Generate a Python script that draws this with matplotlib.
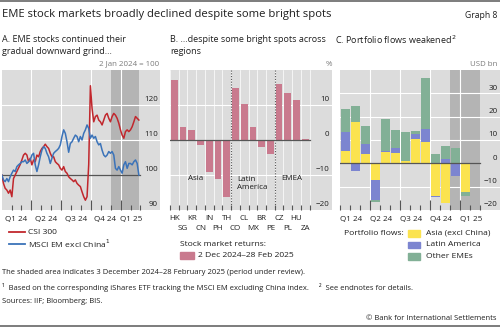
import numpy as np
import pandas as pd
import matplotlib
matplotlib.use("Agg")
import matplotlib.pyplot as plt
from matplotlib.lines import Line2D
from matplotlib.patches import Rectangle
from matplotlib.transforms import blended_transform_factory

# ----------------- Datos -----------------

# Panel A: índices (2 ene 2024 = 100), muestreo aprox. cada 5 días
csi300 = [100, 97.6, 96.2, 95.7, 94.8, 95.7, 93.8, 99, 100, 101, 102, 103, 104.3,
          105.7, 106.2, 105.7, 103.8, 104.8, 102.9, 104.3, 103.8, 105.7, 105.2,
          106.7, 107.6, 108.1, 108.8, 108.1, 107.6, 106.2, 105.2, 105.2, 103.8,
          103.3, 102.9, 101.9, 101.4, 102.4, 101, 100.5, 99.5, 99, 98.6, 98.1,
          98.6, 97.6, 97.1, 96.7, 95.2, 93.8, 92.8, 93.8, 103, 125.5, 119,
          115.2, 116.7, 117.1, 115.7, 115.2, 114.3, 115.7, 117.1, 117.6, 116.2,
          115.2, 116.7, 117.6, 117.1, 116.2, 114.8, 112.9, 111.4, 110.5, 112.4,
          112.9, 112.4, 112.9, 113.8, 115.2, 116.7, 116.2, 115.7]
msci_ex_china = [100, 98.6, 98.1, 99, 98.1, 99.5, 100.5, 101.4, 101, 102.4, 102.9,
                 103.3, 103.8, 103.8, 104.3, 103.3, 103.8, 104.3, 105.7, 106.2,
                 102.9, 101, 102.9, 105.2, 107.1, 108.1, 107.6, 106.2, 105.2,
                 103.3, 104.8, 106.2, 106.7, 107.1, 107.6, 108.6, 111, 112.9,
                 111.9, 109.5, 106.5, 109, 109.5, 110.5, 111.4, 111, 109.5, 111,
                 110, 111.9, 112.9, 114.3, 113.3, 110.5, 111.4, 110.5, 111, 109.5,
                 108.6, 109, 107.1, 105.7, 105.2, 105.7, 106.7, 106.2, 106.7,
                 105.7, 101.9, 101.4, 102.4, 101.4, 100.5, 102.9, 103.8, 101.9,
                 103.3, 103.3, 102.9, 103.8, 104.3, 103.3, 100]

# Panel B: rentabilidades 2 dic 2024-28 feb 2025 (%)
paises = ["HK", "SG", "KR", "CN", "IN", "PH", "TH", "CO", "CL", "MX", "BR", "PE",
          "CZ", "PL", "HU", "ZA"]
retornos = [17.2, 3.8, 3.0, -1.3, -9.0, -11.1, -16.4, 14.9, 10.4, 3.7, -2.0, -4.0,
            15.9, 13.3, 11.4, 0.3]

# Panel C: flujos de cartera mensuales (USD bn), ene 2024 - ene 2025
meses = pd.period_range("2024-01", "2025-01", freq="M")
flujo_asia = [5.3, 17.6, 4.0, -7.1, 4.7, 4.6, 0.8, 10.6, 9.0, -14.0, -17.1, 0.0, -12.4]
flujo_latam = [8.3, -3.3, 4.3, -8.6, 0.7, 2.1, 0.0, 2.1, 5.7, -0.6, 1.7, -5.4, 0.0]
flujo_otros = [9.7, 7.1, 7.6, -1.0, 13.6, 7.4, 12.5, 1.2, 22.0, 4.0, 5.7, 6.7, -1.5]

# ----------------- Estilo -----------------

W, H = 500, 328
FONDO = "#dcdcdc"
SOMBRA = "#b4b4b4"
GRIS = "#555555"
ROJO = "#c1272d"
AZUL = "#3b73b9"
MALVA = "#c97a8e"
AMARILLO = "#fbe34f"
LILA = "#7c85d0"
VERDE = "#82b096"
TXT = "#1f1f1f"

plt.rcParams["font.family"] = ["Open Sans", "DejaVu Sans"]
TICK_FS = 5.8
SUB_FS = 6.45
LEG_FS = 6.1
PIE_FS = 5.5

fig = plt.figure(figsize=(W / 100, H / 100), dpi=100)


def caja(x0, y0, x1, y1):
    ax = fig.add_axes([x0 / W, 1 - y1 / H, (x1 - x0) / W, (y1 - y0) / H])
    ax.set_facecolor(FONDO)
    for s in ax.spines.values():
        s.set_visible(False)
    ax.set_yticks([])
    return ax


def ftexto(x, y, s, **kw):
    kw.setdefault("color", TXT)
    kw.setdefault("va", "center")
    fig.text(x / W, 1 - y / H, s, **kw)


def etiqueta_x(ax, x, y, s):
    tr = blended_transform_factory(ax.transData, fig.transFigure)
    ax.text(x, 1 - y / H, s, transform=tr, ha="center", va="center",
            fontsize=TICK_FS, color=TXT, clip_on=False)


def etiquetas_y(ax, valores, dy):
    tr = blended_transform_factory(ax.transAxes, ax.transData)
    for v in valores:
        ax.text(0.985, v + dy, f"{v:g}".replace("-", "\u2212"), transform=tr,
                ha="right", va="bottom", fontsize=TICK_FS, color=TXT)


def ticks_x(ax, mayores, menores):
    ax.set_xticks(mayores)
    ax.set_xticks(menores, minor=True)
    ax.tick_params(axis="x", which="major", direction="in", length=7, width=0.8,
                   color=GRIS, labelbottom=False)
    ax.tick_params(axis="x", which="minor", direction="in", length=3.5, width=0.8,
                   color=GRIS, labelbottom=False)


# ----------------- Cabecera -----------------

fig.add_artist(Line2D([0, 1], [1 - 1 / H, 1 - 1 / H], color="#666666", lw=1.2))
ftexto(2, 15, "EME stock markets broadly declined despite some bright spots",
       fontsize=8.1)
ftexto(497, 15, "Graph 8", fontsize=6.2, ha="right")
ftexto(2, 40, "A. EME stocks continued their", fontsize=SUB_FS)
ftexto(2, 51, "gradual downward grind...", fontsize=SUB_FS)
ftexto(170, 40, "B. ...despite some bright spots across", fontsize=SUB_FS)
ftexto(170, 51, "regions", fontsize=SUB_FS)
ftexto(335, 40, "C. Portfolio flows weakened$^{2}$", fontsize=SUB_FS)

# ----------------- Panel A -----------------

fechas = pd.date_range("2024-01-02", "2025-02-26", periods=len(csi300))
axA = caja(1.5, 70, 160, 210)
axA.set_xlim(pd.Timestamp("2024-01-01"), pd.Timestamp("2025-05-02"))
axA.set_ylim(90, 130)
axA.axvspan(pd.Timestamp("2024-12-03"), pd.Timestamp("2025-02-28"),
            color=SOMBRA, lw=0, zorder=0)
trimestres = pd.to_datetime(["2024-04-01", "2024-07-01", "2024-10-01", "2025-01-01"])
for v in [110, 120]:
    axA.axhline(v, color="white", lw=0.8, zorder=1)
for d in trimestres:
    axA.axvline(d, color="white", lw=0.8, zorder=1)
axA.plot([pd.Timestamp("2024-01-01"), pd.Timestamp("2025-03-01")], [100, 100],
         color=GRIS, lw=0.9, zorder=2)
axA.plot(fechas, csi300, color=ROJO, lw=1.1, zorder=3)
axA.plot(fechas, msci_ex_china, color=AZUL, lw=1.1, zorder=3)
mensuales = [d for d in pd.date_range("2024-02-01", "2025-03-01", freq="MS")
             if d not in trimestres]
ticks_x(axA, trimestres, mensuales)
etiquetas_y(axA, [90, 100, 110, 120], 0.5)
for d, lab in zip(pd.to_datetime(["2024-02-15", "2024-05-16", "2024-08-16",
                                  "2024-11-15", "2025-02-01"]),
                  ["Q1 24", "Q2 24", "Q3 24", "Q4 24", "Q1 25"]):
    etiqueta_x(axA, d, 219, lab)
ftexto(159, 64, "2 Jan 2024 = 100", fontsize=5.7, ha="right", color="#7a7a7a")

for y, col, lab in [(232, ROJO, "CSI 300"), (244, AZUL, "MSCI EM excl China$^{1}$")]:
    fig.add_artist(Line2D([8.5 / W, 25 / W], [1 - y / H, 1 - y / H], color=col, lw=1.3))
    ftexto(28.5, y, lab, fontsize=LEG_FS)

# ----------------- Panel B -----------------

xB = np.arange(len(paises))
axB = caja(170, 70, 332, 210)
axB.set_xlim(-0.5, -0.5 + 162 / 8.73)
axB.set_ylim(-20, 20)
for v in [-10, 10]:
    axB.axhline(v, color="white", lw=0.8, zorder=1)
for b in np.arange(-0.5, len(paises)):
    axB.axvline(b, color="white", lw=0.5, zorder=1)
axB.bar(xB, retornos, width=0.77, color=MALVA, zorder=2)
axB.plot([-0.5, len(paises) - 0.5], [0, 0], color=GRIS, lw=0.9, zorder=3)
for b in [6.5, 11.5]:
    axB.axvline(b, color=GRIS, lw=0.8, ls=(0, (1, 1.5)), zorder=3)
ticks_x(axB, [], np.arange(-0.5, len(paises)))
etiquetas_y(axB, [-20, -10, 0, 10], 0.5)
for i, p in enumerate(paises):
    etiqueta_x(axB, i, 219 if i % 2 == 0 else 228, p)
axB.text(2.45, -11.1, "Asia", ha="center", va="center", fontsize=TICK_FS, color=TXT)
axB.text(7.2, -12.4, "Latin\nAmerica", ha="left", va="center", fontsize=TICK_FS,
         color=TXT, linespacing=1.15)
axB.text(13.5, -11.1, "EMEA", ha="center", va="center", fontsize=TICK_FS, color=TXT)
ftexto(332, 64, "%", fontsize=5.7, ha="right", color="#7a7a7a")

ftexto(180, 244, "Stock market returns:", fontsize=LEG_FS)
fig.add_artist(Rectangle((180 / W, 1 - 259 / H), 14 / W, 7 / H, color=MALVA))
ftexto(198, 255.7, "2 Dec 2024\u201328 Feb 2025", fontsize=LEG_FS)

# ----------------- Panel C -----------------

xC = np.arange(len(meses))
axC = caja(340, 70, 500, 210)
axC.set_xlim(-0.5, 15.5)
axC.set_ylim(-20, 40)
axC.axvspan(10.5, 13.5, color=SOMBRA, lw=0, zorder=0)
for v in [-10, 10, 20, 30]:
    axC.axhline(v, color="white", lw=0.8, zorder=1)
for b in [2.5, 5.5, 8.5, 11.5]:
    axC.axvline(b, color="white", lw=0.8, zorder=1)

pos = np.zeros(len(meses))
neg = np.zeros(len(meses))
for serie, col in [(flujo_asia, AMARILLO), (flujo_latam, LILA), (flujo_otros, VERDE)]:
    v = np.array(serie)
    base = np.where(v >= 0, pos, neg)
    axC.bar(xC, v, bottom=base, width=0.9, color=col, zorder=2)
    pos = pos + np.clip(v, 0, None)
    neg = neg + np.clip(v, None, 0)
axC.plot([-0.5, 13.5], [0, 0], color=GRIS, lw=0.9, zorder=3)
ticks_x(axC, [2.5, 5.5, 8.5, 11.5],
        [b for b in np.arange(-0.5, 14) if b not in (2.5, 5.5, 8.5, 11.5)])
etiquetas_y(axC, [-20, -10, 0, 10, 20, 30], 0.7)
for i, lab in zip([1, 4, 7, 10, 13], ["Q1 24", "Q2 24", "Q3 24", "Q4 24", "Q1 25"]):
    etiqueta_x(axC, i - 0.35, 219, lab)
ftexto(497.5, 64, "USD bn", fontsize=5.7, ha="right", color="#7a7a7a")

ftexto(404, 233.3, "Portfolio flows:", fontsize=LEG_FS, ha="right")
for y, col, lab in [(233.3, AMARILLO, "Asia (excl China)"),
                    (245, LILA, "Latin America"),
                    (256.7, VERDE, "Other EMEs")]:
    fig.add_artist(Rectangle((408 / W, 1 - (y + 3.2) / H), 12 / W, 6.4 / H, color=col))
    ftexto(426, y, lab, fontsize=LEG_FS)

# ----------------- Pie -----------------

ftexto(2, 272, "The shaded area indicates 3 December 2024\u201328 February 2025 "
       "(period under review).", fontsize=PIE_FS)
ftexto(2, 287, "\u00b9  Based on the corresponding iShares ETF tracking the MSCI EM "
       "excluding China index.     \u00b2  See endnotes for details.", fontsize=PIE_FS)
ftexto(2, 301.5, "Sources: IIF; Bloomberg; BIS.", fontsize=PIE_FS)
ftexto(497, 318.5, "\u00a9 Bank for International Settlements", fontsize=5.5,
       ha="right")
fig.add_artist(Line2D([0, 1], [1 - 326 / H, 1 - 326 / H], color="#666666", lw=1.2))

fig.savefig("out.png", dpi=100)
